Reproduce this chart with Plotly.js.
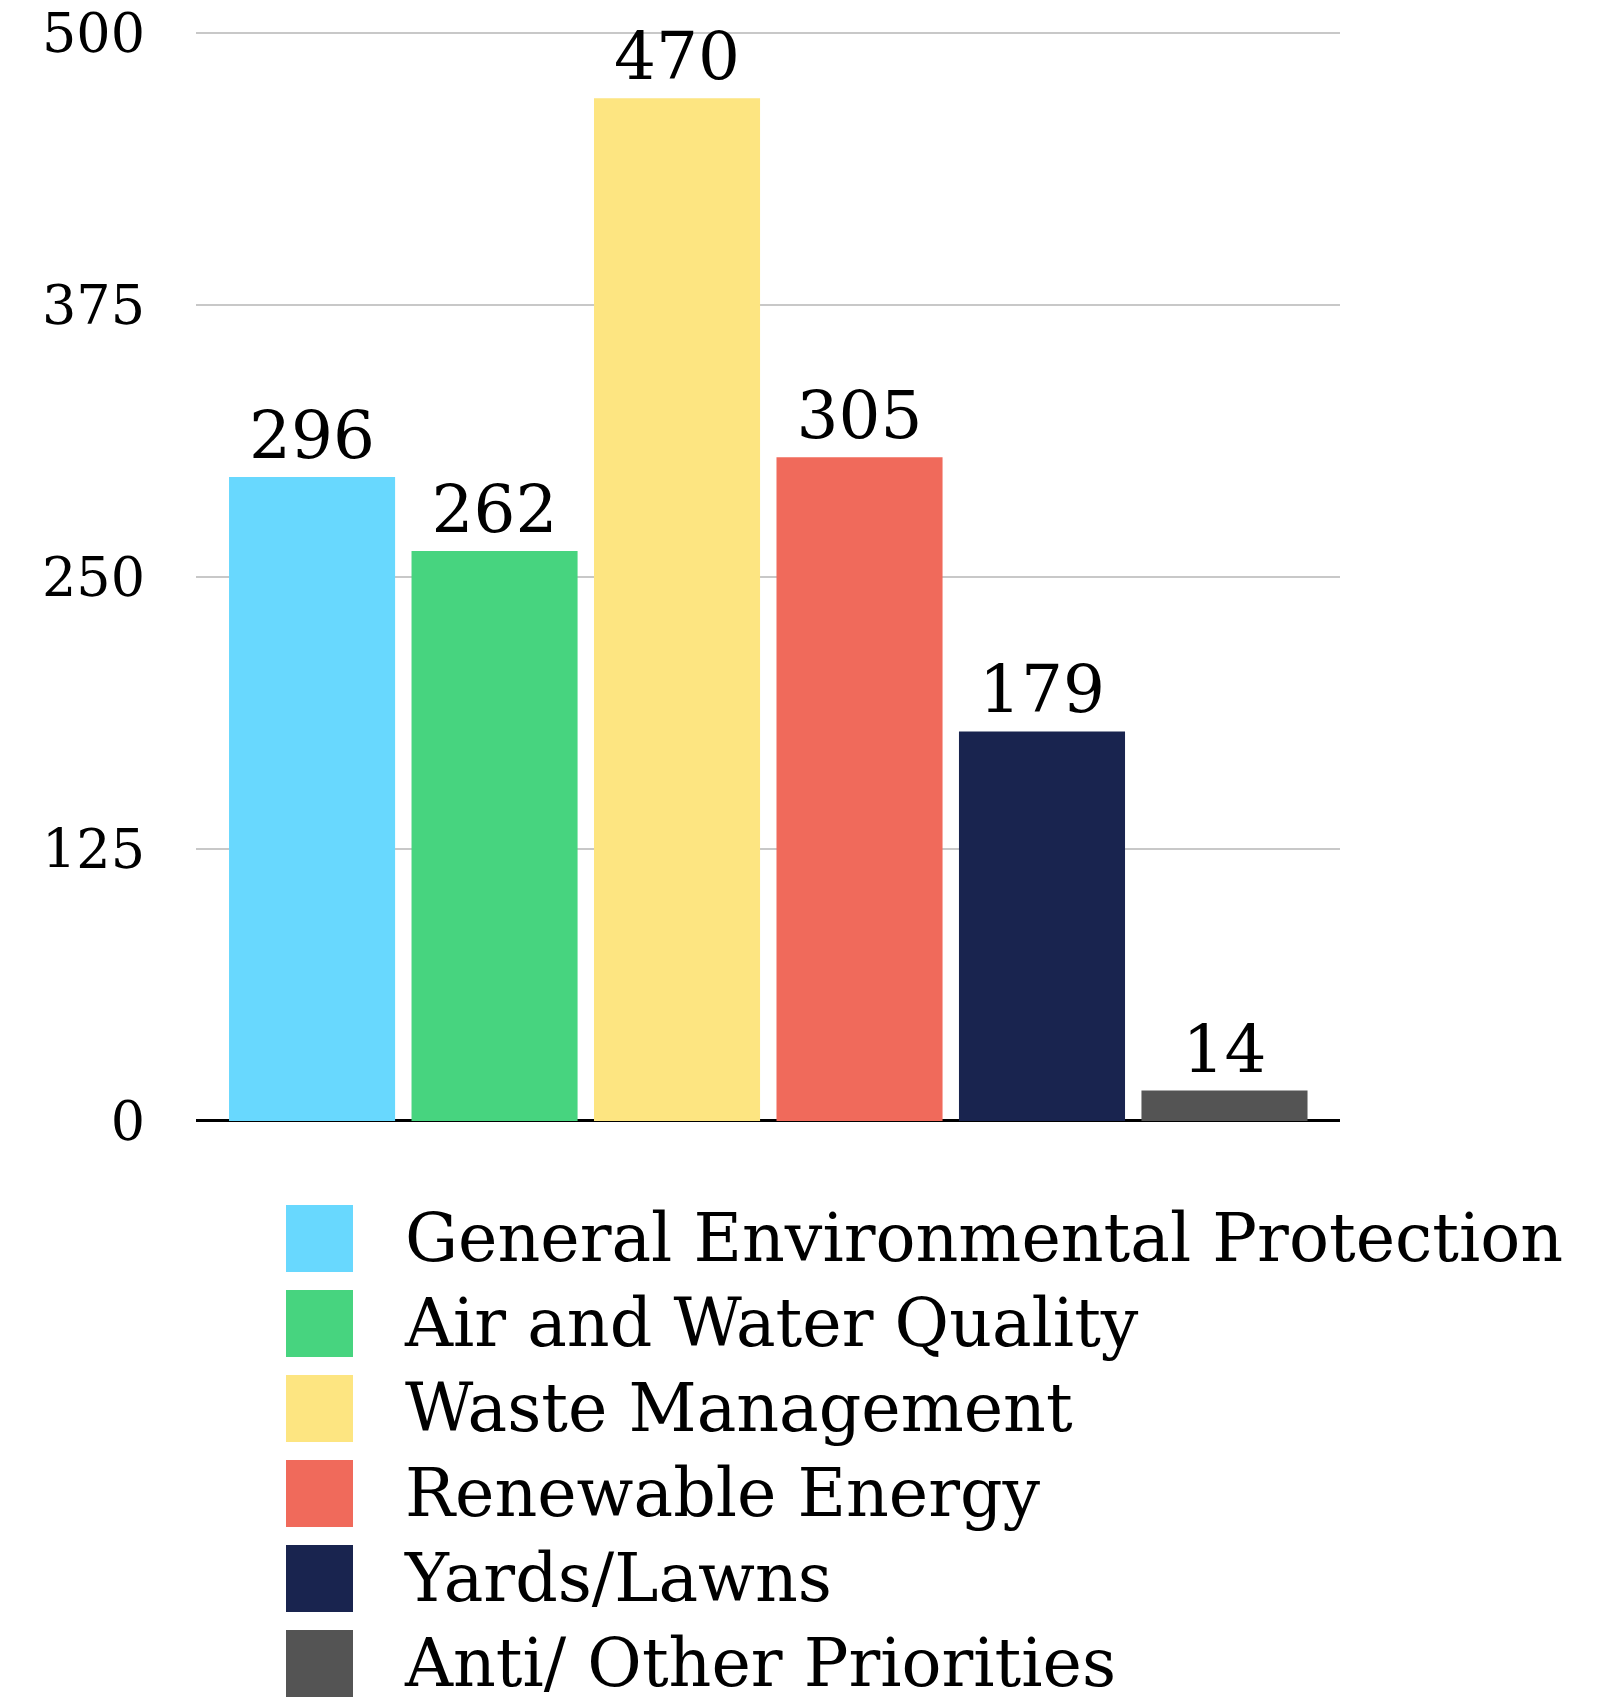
<!DOCTYPE html>
<html>
<head>
<meta charset="utf-8">
<script src="https://cdn.plot.ly/plotly-3.0.1.min.js"></script>
<style>html,body{margin:0;padding:0;background:#fff;}#chart{width:1614px;height:1701px;}</style>
</head>
<body>
<div id="chart"></div>
<script>
// ---- data ----
const categories = ["General Environmental Protection", "Air and Water Quality", "Waste Management", "Renewable Energy", "Yards/Lawns", "Anti/ Other Priorities"];
const values = [296, 262, 470, 305, 179, 14];
const colors = ["#68D8FE", "#47D47F", "#FDE581", "#F06A5B", "#19244F", "#545454"];
const yTicks = [0, 125, 250, 375, 500];
const swatchSize = [1, 1, 1, 1, 1, 1];
const labelPos = [1.776, 1.776, 1.776, 1.776, 1.776, 1.776];

const FONT = "DejaVu Serif, Liberation Serif, serif";
const W = 1614, H = 1701;
const PX_PER_UNIT = (1121 - 33) / 500;
const Y_TOP = 502;
const TEXT_SHIFT = 6;

const mainBars = {
  type: "bar",
  x: categories,
  y: values,
  marker: {color: colors},
  text: values.map(String),
  textposition: "outside",
  textfont: {family: FONT, size: 66, color: "#000"},
  constraintext: "none",
  cliponaxis: false,
  width: 0.91,
  hoverinfo: "skip",
  xaxis: "x", yaxis: "y"
};

const legendBars = {
  type: "bar",
  orientation: "h",
  y: categories,
  x: swatchSize,
  marker: {color: colors},
  width: 0.788,
  hoverinfo: "skip",
  cliponaxis: false,
  xaxis: "x2", yaxis: "y2"
};

const legendText = {
  type: "scatter",
  mode: "text",
  y: categories,
  x: labelPos,
  text: categories,
  textposition: "middle right",
  textfont: {family: FONT, size: 66.5, color: "#000"},
  cliponaxis: false,
  hoverinfo: "skip",
  xaxis: "x2", yaxis: "y3"
};

const layout = {
  width: W, height: H,
  margin: {l: 0, r: 0, t: 0, b: 0},
  paper_bgcolor: "#fff",
  plot_bgcolor: "rgba(0,0,0,0)",
  showlegend: false,
  hovermode: false,
  font: {family: FONT, color: "#000"},
  xaxis: {
    domain: [196 / W, 1340 / W],
    type: "category",
    range: [-0.636, 5.633],
    showticklabels: false,
    showgrid: false,
    zeroline: false,
    showline: false,
    ticks: ""
  },
  yaxis: {
    domain: [1 - 1121 / H, 1 - (1121 - Y_TOP * PX_PER_UNIT) / H],
    range: [0, Y_TOP],
    tickvals: yTicks,
    ticktext: yTicks.map(String),
    tickfont: {family: FONT, size: 54, color: "#000"},
    ticks: "",
    ticklabelstandoff: 50,
    showgrid: true,
    gridcolor: "#c8c8c8",
    gridwidth: 1.5,
    zeroline: true,
    zerolinecolor: "#000",
    zerolinewidth: 3,
    showline: false
  },
  xaxis2: {
    domain: [286 / W, 1],
    range: [0, (W - 286) / 67],
    visible: false,
    anchor: "y2"
  },
  yaxis2: {
    domain: [0, 1 - 1196 / H],
    type: "category",
    range: [5.44, -0.5],
    visible: false,
    anchor: "x2"
  },
  yaxis3: {
    domain: [0, 1 - (1196 + TEXT_SHIFT) / H],
    type: "category",
    range: [5.44 - TEXT_SHIFT / 85, -0.5],
    visible: false,
    anchor: "x2"
  }
};

Plotly.newPlot("chart", [mainBars, legendBars, legendText], layout, {staticPlot: true, displayModeBar: false});
</script>
</body>
</html>
